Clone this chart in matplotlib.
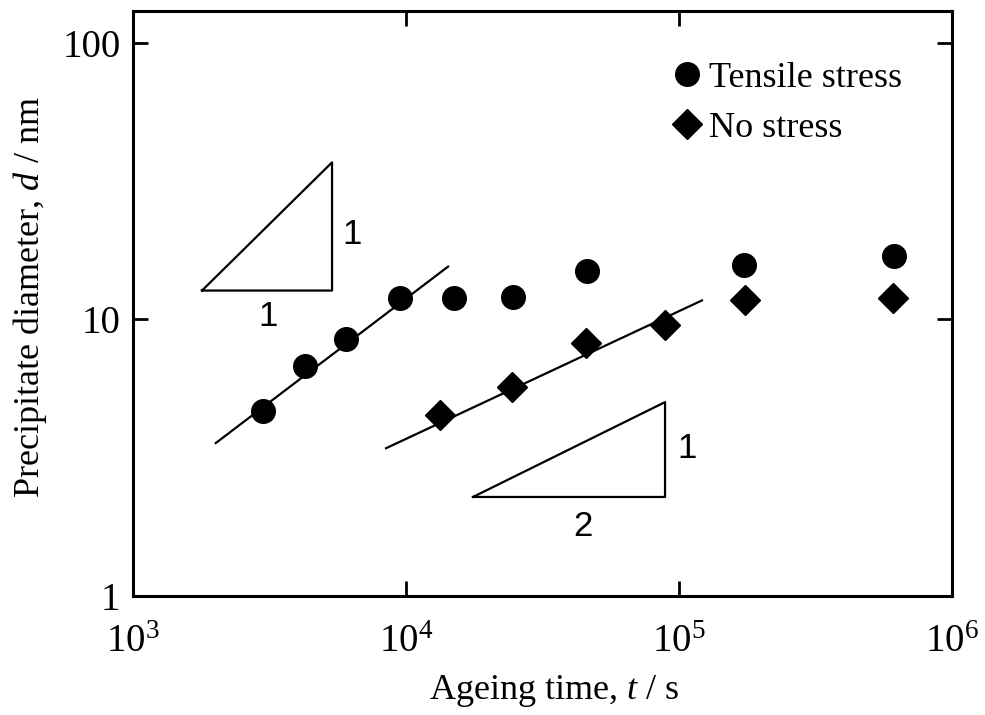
import numpy as np
import matplotlib
matplotlib.use('Agg')
import matplotlib.pyplot as plt
from matplotlib.ticker import LogLocator, LogFormatterMathtext, FixedLocator, FixedFormatter

plt.rcParams['font.family'] = 'Liberation Serif'
plt.rcParams['mathtext.fontset'] = 'custom'
plt.rcParams['mathtext.rm'] = 'Liberation Serif'
plt.rcParams['mathtext.it'] = 'Liberation Serif:italic'

# Data
t_tensile = [3000, 4270, 6030, 9500, 15000, 24600, 46000, 173000, 614000]
d_tensile = [4.65, 6.77, 8.47, 11.9, 11.9, 12.0, 14.9, 15.7, 17.0]

t_nostress = [13300, 24400, 45600, 88900, 174500, 608000]
d_nostress = [4.5, 5.68, 8.19, 9.51, 11.7, 11.9]

# Fitted lines (end points)
fit1_t = [2010, 14260]
fit1_d = [3.57, 15.5]
fit2_t = [8450, 121400]
fit2_d = [3.42, 11.7]

# Slope triangles (vertices)
tri1_t = [1790, 5360, 5360, 1790]
tri1_d = [12.7, 12.7, 36.9, 12.7]
tri2_t = [17600, 88900, 88900, 17600]
tri2_d = [2.28, 2.28, 5.02, 2.28]

fig = plt.figure(figsize=(9.85, 7.15), dpi=100)
ax = fig.add_axes([0.135, 0.1664, 0.8315, 0.8182])

ax.plot(fit1_t, fit1_d, color='black', lw=1.6, zorder=2)
ax.plot(fit2_t, fit2_d, color='black', lw=1.6, zorder=2)
ax.plot(tri1_t, tri1_d, color='black', lw=1.6)
ax.plot(tri2_t, tri2_d, color='black', lw=1.6)

ax.plot(t_tensile, d_tensile, 'o', color='black', ms=17, ls='none', zorder=3,
        label='Tensile stress')
ax.plot(t_nostress, d_nostress, 'D', color='black', ms=15, ls='none', zorder=3,
        label='No stress')

# triangle labels
tri_font = dict(family='Liberation Sans', fontsize=25, ha='center', va='center')
ax.text(6340, 20.3, '1', **tri_font)
ax.text(3120, 10.25, '1', **tri_font)
ax.text(107000, 3.40, '1', **tri_font)
ax.text(44500, 1.79, '2', **tri_font)

ax.set_xscale('log')
ax.set_yscale('log')
ax.set_xlim(1e3, 1e6)
ax.set_ylim(1, 130)

ax.xaxis.set_major_locator(LogLocator(base=10, numticks=10))
ax.xaxis.set_major_formatter(LogFormatterMathtext())
ax.xaxis.set_minor_locator(FixedLocator([]))
ax.yaxis.set_major_locator(FixedLocator([1, 10, 100]))
ax.yaxis.set_major_formatter(FixedFormatter(['1', '10', '100']))
ax.yaxis.set_minor_locator(FixedLocator([]))

ax.tick_params(which='major', direction='in', length=11, width=2,
               top=True, right=True, labelsize=28)
ax.tick_params(axis='x', pad=20)
ax.tick_params(axis='y', pad=9)
for s in ax.spines.values():
    s.set_linewidth(2.2)

ax.set_xlabel('Ageing time, $t$ / s', fontsize=26)
ax.set_ylabel('Precipitate diameter, $d$ / nm', fontsize=26)
ax.xaxis.set_label_coords(0.514, -0.132)
ax.yaxis.set_label_coords(-0.102, 0.511)

ax.legend(loc='upper right', frameon=False, fontsize=26, handletextpad=0.0,
          borderaxespad=0.0, labelspacing=0.45, handlelength=1.2,
          bbox_to_anchor=(0.956, 0.938))

fig.savefig('out.png', dpi=100)
